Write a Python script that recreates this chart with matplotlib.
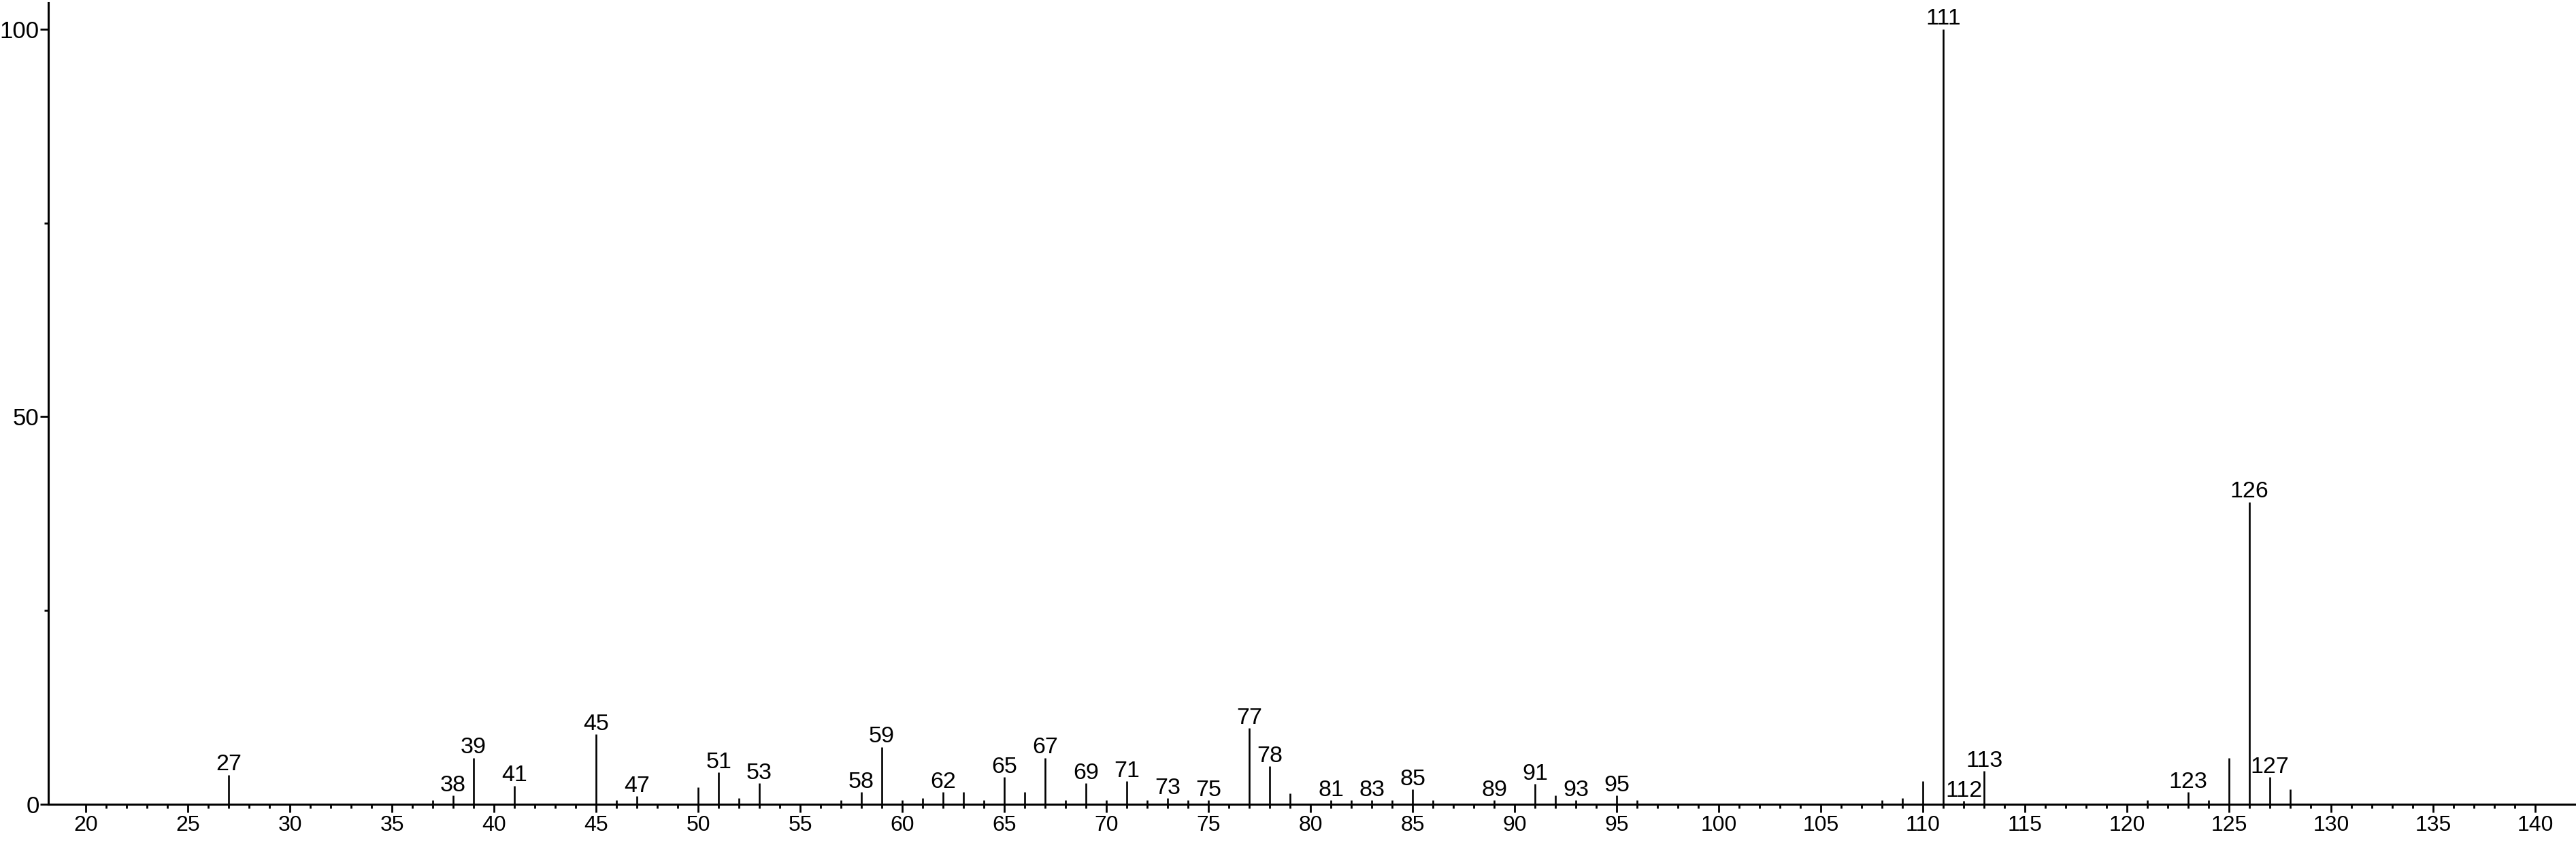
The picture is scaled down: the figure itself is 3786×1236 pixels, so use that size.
import matplotlib.pyplot as plt
from matplotlib.ticker import FixedLocator

plt.rcParams['font.family'] = ['Liberation Sans', 'DejaVu Sans']

# mass spectrum peaks (m/z, relative abundance %)
mz = [27, 37, 38, 39, 41, 45, 46, 47, 50, 51, 52, 53, 57, 58, 59,
      60, 61, 62, 63, 64, 65, 66, 67, 68, 69, 70, 71, 72, 73, 74, 75,
      77, 78, 79, 81, 82, 83, 84, 85, 86, 89, 91, 92, 93, 95, 96,
      108, 109, 110, 111, 112, 113, 121, 123, 124, 125, 126, 127, 128]
intensity = [3.8, 0.5, 1.1, 6.0, 2.4, 9.0, 0.5, 1.05, 2.2, 4.1, 0.8, 2.7, 0.5, 1.6, 7.4,
             0.5, 0.8, 1.6, 1.6, 0.5, 3.5, 1.6, 6.0, 0.5, 2.7, 0.5, 3.0, 0.5, 0.8, 0.5, 0.5,
             9.85, 4.9, 1.4, 0.5, 0.5, 0.5, 0.5, 1.9, 0.5, 0.5, 2.6, 1.1, 0.5, 1.1, 0.5,
             0.5, 0.8, 3.0, 100.0, 0.45, 4.3, 0.5, 1.6, 0.5, 6.0, 39.0, 3.5, 1.9]

# peaks carrying a text label
labelled = [27, 38, 39, 41, 45, 47, 51, 53, 58, 59, 62, 65, 67, 69, 71, 73, 75,
            77, 78, 81, 83, 85, 89, 91, 93, 95, 111, 112, 113, 123, 126, 127]

W, H = 3786, 1236
fig = plt.figure(figsize=(W / 100, H / 100), dpi=100)
ax = fig.add_axes([70.7 / W, (H - 1182) / H, (W - 70.7) / W, (1182 - 4) / H])

ax.vlines(mz, 0, intensity, color='black', linewidth=1.9)

lookup = dict(zip(mz, intensity))
for m in labelled:
    ax.annotate(str(m), (m, lookup[m]), xytext=(0, 4.5), textcoords='offset points',
                ha='center', va='baseline', fontsize=24.5)

ax.set_xlim(18.15, 142.0)
ax.set_ylim(0, 103.4)

ax.xaxis.set_major_locator(FixedLocator(range(20, 141, 5)))
ax.xaxis.set_minor_locator(FixedLocator([v for v in range(20, 141) if v % 5]))
ax.yaxis.set_major_locator(FixedLocator([0, 50, 100]))
ax.yaxis.set_minor_locator(FixedLocator([25, 75]))

ax.tick_params(axis='x', which='major', length=8.5, width=2, labelsize=23, pad=3)
ax.tick_params(axis='x', which='minor', length=4.3, width=2)
ax.tick_params(axis='y', which='major', length=8.5, width=2, labelsize=25, pad=1)
ax.tick_params(axis='y', which='minor', length=4.3, width=2)

for side in ('top', 'right'):
    ax.spines[side].set_visible(False)
for side in ('left', 'bottom'):
    ax.spines[side].set_linewidth(2.2)

fig.savefig('out.png', dpi=100)
